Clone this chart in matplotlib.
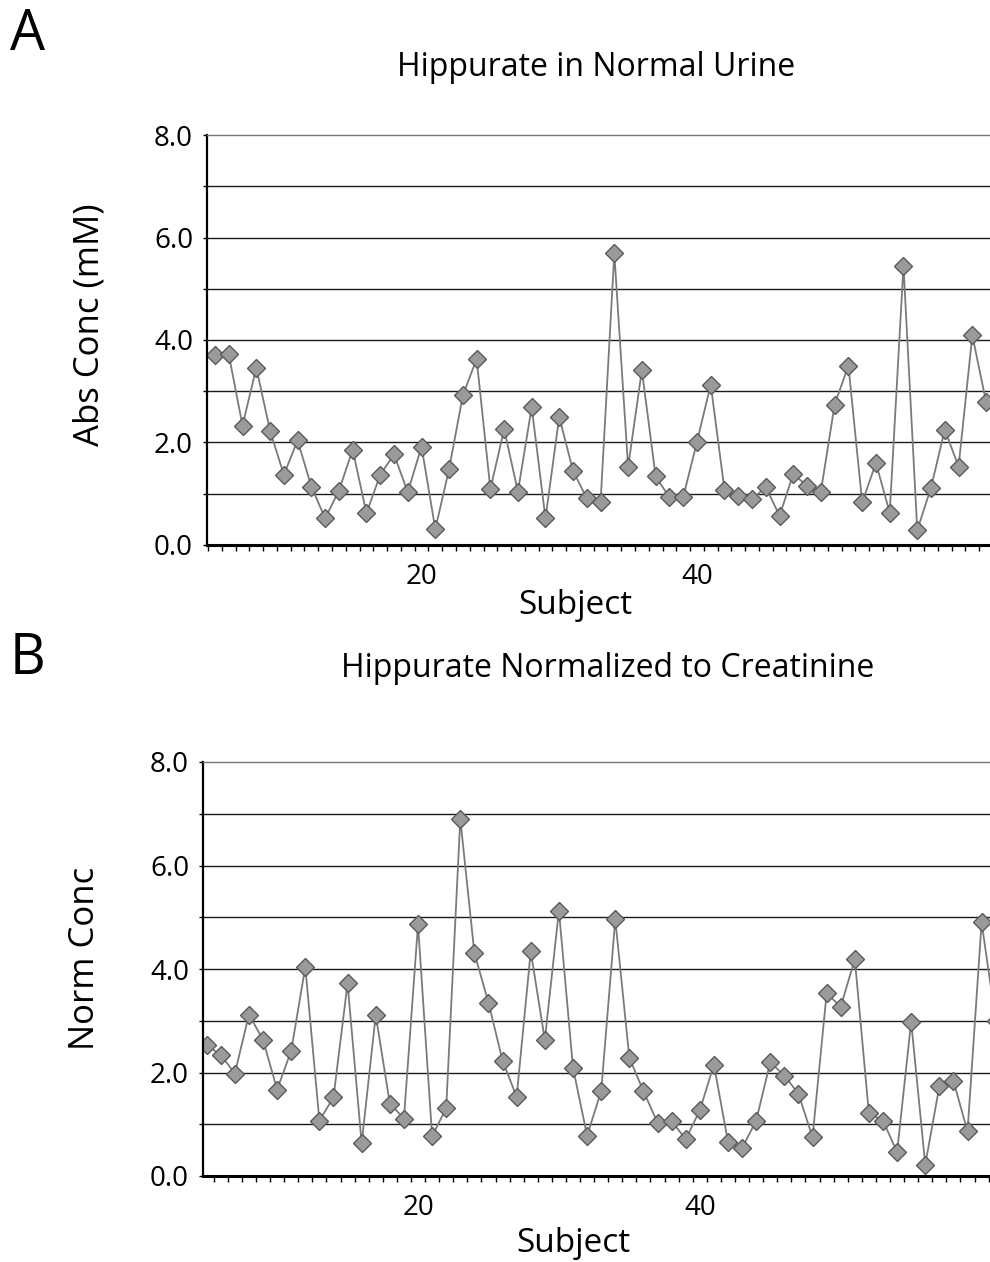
import matplotlib.pyplot as plt
import numpy as np
from matplotlib.ticker import FixedLocator, FuncFormatter

plt.rcParams['font.family'] = ['Open Sans', 'DejaVu Sans']

# subject numbers shown on the category axis
subjects = np.arange(5, 62)

# hippurate, absolute concentration (mM)
abs_conc = [3.70, 3.72, 2.33, 3.46, 2.23, 1.37, 2.04, 1.14, 0.52, 1.06,
            1.86, 0.62, 1.37, 1.77, 1.03, 1.92, 0.31, 1.48, 2.92, 3.63,
            1.09, 2.26, 1.04, 2.69, 0.52, 2.50, 1.45, 0.91, 0.83, 5.69,
            1.52, 3.41, 1.34, 0.93, 0.93, 2.01, 3.13, 1.08, 0.95, 0.89,
            1.13, 0.57, 1.39, 1.15, 1.04, 2.74, 3.50, 0.83, 1.60, 0.63,
            5.45, 0.29, 1.12, 2.25, 1.53, 4.09, 2.79]

# hippurate normalized to creatinine
norm_conc = [2.53, 2.34, 1.98, 3.12, 2.63, 1.67, 2.42, 4.04, 1.07, 1.52,
             3.72, 0.63, 3.11, 1.40, 1.11, 4.86, 0.77, 1.31, 6.90, 4.31,
             3.35, 2.23, 1.53, 4.34, 2.63, 5.13, 2.09, 0.78, 1.64, 4.96,
             2.28, 1.64, 1.03, 1.06, 0.71, 1.27, 2.15, 0.66, 0.54, 1.07,
             2.20, 1.94, 1.59, 0.75, 3.53, 3.27, 4.19, 1.21, 1.07, 0.46,
             2.98, 0.22, 1.73, 1.84, 0.86, 4.90, 3.00]

y_ticks = [0, 2, 4, 6, 8]
x_labels = [20, 40]

W, H = 990, 1262
fig = plt.figure(figsize=(W / 100, H / 100), dpi=100)


def make_panel(left_px, bottom_px, top_px, x0, step_px, values):
    # axes run past the right edge of the figure, so the right side is cut off
    width_px = 820
    ax = fig.add_axes([left_px / W, 1 - bottom_px / H, width_px / W,
                       (bottom_px - top_px) / H])
    ax.set_xlim(x0, x0 + width_px / step_px)
    ax.set_ylim(0, 8)

    for level in range(1, 8):
        ax.axhline(level, color='#1a1a1a', lw=1.0, zorder=1)

    ax.plot(subjects, values, color='#7a7a7a', lw=1.3, zorder=2,
            marker='D', markersize=9.5, markerfacecolor='#9a9a9a',
            markeredgecolor='#5a5a5a', markeredgewidth=1.0)

    ax.spines['right'].set_visible(False)
    ax.spines['top'].set_linestyle((0, (2, 1)))
    ax.spines['top'].set_color('#777777')
    ax.spines['top'].set_linewidth(1.0)
    ax.spines['left'].set_linewidth(1.6)
    ax.spines['bottom'].set_linewidth(2.2)

    ax.yaxis.set_major_locator(FixedLocator(y_ticks))
    ax.yaxis.set_minor_locator(FixedLocator([1, 3, 5, 7]))
    ax.yaxis.set_major_formatter(FuncFormatter(lambda v, p: f'{v:.1f}'))
    ax.tick_params(axis='y', which='both', length=3, width=1, pad=7,
                   labelsize=20)

    ax.xaxis.set_major_locator(FixedLocator(x_labels))
    ax.xaxis.set_minor_locator(FixedLocator(np.arange(4.5, 70, 1.0)))
    ax.tick_params(axis='x', which='major', length=0, pad=13, labelsize=20)
    ax.tick_params(axis='x', which='minor', length=4, width=1)
    return ax


ax_a = make_panel(207, 545, 135, 4.42, 13.77, abs_conc)
ax_b = make_panel(203, 1176, 762, 4.74, 14.09, norm_conc)

fig.text(575 / W, 1 - 606 / H, 'Subject', fontsize=24,
         ha='center', va='center')
fig.text(573 / W, 1 - 1244 / H, 'Subject', fontsize=24,
         ha='center', va='center')

fig.text(90 / W, 1 - 325 / H, 'Abs Conc (mM)', rotation=90, fontsize=25,
         ha='center', va='center')
fig.text(85 / W, 1 - 958 / H, 'Norm Conc', rotation=90, fontsize=25,
         ha='center', va='center')

fig.text(596 / W, 1 - 68 / H, 'Hippurate in Normal Urine', fontsize=23,
         ha='center', va='center')
fig.text(608 / W, 1 - 668 / H, 'Hippurate Normalized to Creatinine',
         fontsize=23, ha='center', va='center')

fig.text(10 / W, 1 - 36 / H, 'A', fontsize=40, ha='left', va='center')
fig.text(10 / W, 1 - 660 / H, 'B', fontsize=40, ha='left', va='center')

fig.savefig('out.png', dpi=100)
